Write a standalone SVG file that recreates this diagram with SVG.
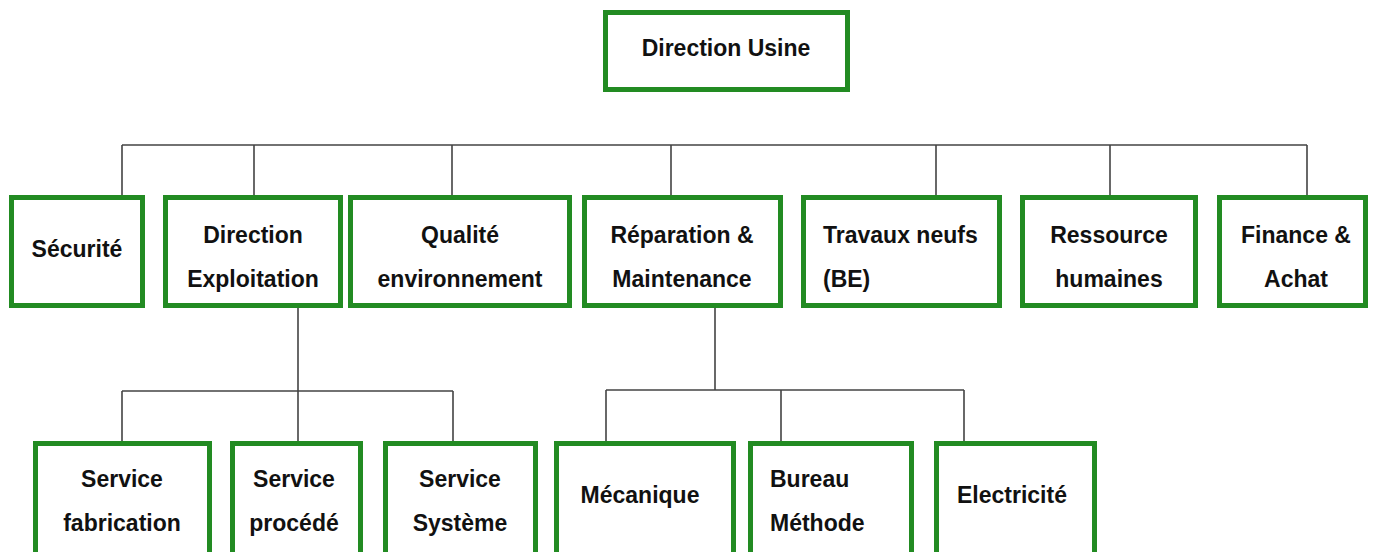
<svg xmlns="http://www.w3.org/2000/svg" width="1377" height="552" viewBox="0 0 1377 552">
<style>
.box{fill:#fff;stroke:#228b22;stroke-width:5}
.t{font-family:"Liberation Sans",Arial,sans-serif;font-weight:bold;font-size:23px;fill:#111;text-anchor:middle}
.l{text-anchor:start}
.c{fill:none;stroke:#444;stroke-width:1.6}
</style>
<rect width="1377" height="552" fill="#fff"/>
<g id="connectors">
<path class="c" d="M122,145H1307M122,145V197M254,145V197M452,145V197M671,145V197M936,145V197M1110,145V197M1307,145V197"/>
<path class="c" d="M298,308V391M122,391H453M122,391V443M298,391V443M453,391V443"/>
<path class="c" d="M715,308V390M606,390H964M606,390V443M781,390V443M964,390V443"/>
</g>
<g id="n-direction-usine"><rect class="box" x="605.5" y="12.5" width="242" height="77"/><text class="t" x="726" y="56">Direction Usine</text></g>
<g id="n-securite"><rect class="box" x="11.5" y="197.5" width="131" height="108"/><text class="t" x="77" y="257">Sécurité</text></g>
<g id="n-direction-exploitation"><rect class="box" x="165.5" y="197.5" width="175" height="108"/><text class="t" x="253" y="243">Direction</text><text class="t" x="253" y="287">Exploitation</text></g>
<g id="n-qualite"><rect class="box" x="350.5" y="197.5" width="219" height="108"/><text class="t" x="460" y="243">Qualité</text><text class="t" x="460" y="287">environnement</text></g>
<g id="n-reparation"><rect class="box" x="584.5" y="197.5" width="196" height="108"/><text class="t" x="682" y="243">Réparation &amp;</text><text class="t" x="682" y="287">Maintenance</text></g>
<g id="n-travaux"><rect class="box" x="803.5" y="197.5" width="196" height="108"/><text class="t l" x="823" y="243">Travaux neufs</text><text class="t l" x="823" y="287">(BE)</text></g>
<g id="n-ressource"><rect class="box" x="1022.5" y="197.5" width="173" height="108"/><text class="t" x="1109" y="243">Ressource</text><text class="t" x="1109" y="287">humaines</text></g>
<g id="n-finance"><rect class="box" x="1219.5" y="197.5" width="146" height="108"/><text class="t" x="1296" y="243">Finance &amp;</text><text class="t" x="1296" y="287">Achat</text></g>
<g id="n-fabrication"><rect class="box" x="35.5" y="443.5" width="174" height="120"/><text class="t" x="122" y="487">Service</text><text class="t" x="122" y="531">fabrication</text></g>
<g id="n-procede"><rect class="box" x="232.5" y="443.5" width="128" height="120"/><text class="t" x="294" y="487">Service</text><text class="t" x="294" y="531">procédé</text></g>
<g id="n-systeme"><rect class="box" x="385.5" y="443.5" width="150" height="120"/><text class="t" x="460" y="487">Service</text><text class="t" x="460" y="531">Système</text></g>
<g id="n-mecanique"><rect class="box" x="556.5" y="443.5" width="177" height="120"/><text class="t" x="640" y="503">Mécanique</text></g>
<g id="n-bureau"><rect class="box" x="750.5" y="443.5" width="161" height="120"/><text class="t l" x="770" y="487">Bureau</text><text class="t l" x="770" y="531">Méthode</text></g>
<g id="n-electricite"><rect class="box" x="936.5" y="443.5" width="158" height="120"/><text class="t" x="1012" y="503">Electricité</text></g>
</svg>
